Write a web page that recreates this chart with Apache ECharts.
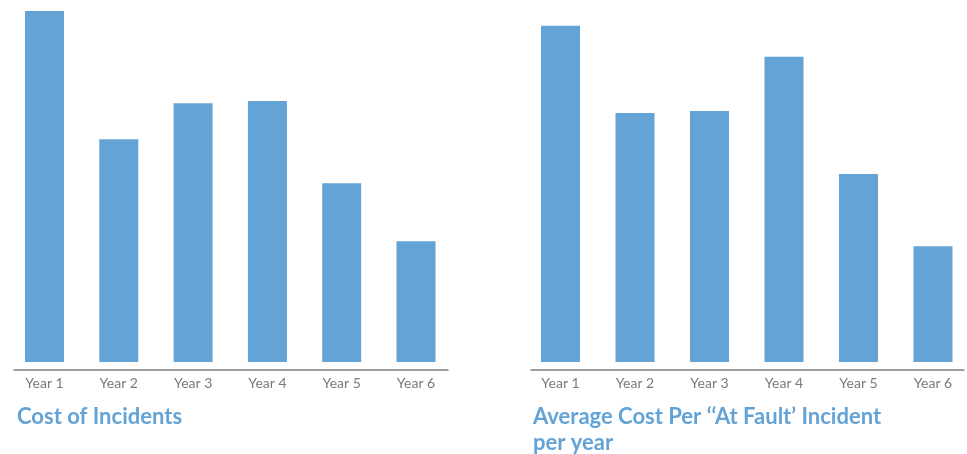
<!DOCTYPE html>
<html>
<head>
<meta charset="utf-8">
<script src="https://cdn.jsdelivr.net/npm/echarts@6/dist/echarts.min.js"></script>
<style>html,body{margin:0;padding:0;background:#fff;}#chart{width:967px;height:454px;}</style>
</head>
<body>
<div id="chart"></div>
<script>
const categories = ['Year 1', 'Year 2', 'Year 3', 'Year 4', 'Year 5', 'Year 6'];
const costOfIncidents = [351, 222.7, 258.7, 261, 178.7, 120.7];
const avgCostPerAtFault = [336.3, 249, 251, 305.3, 188, 115.7];
const titleLeft = 'Cost of Incidents';
const titleRight = 'Average Cost Per \u2018\u2018At Fault\u2019 Incident\nper year';

const barColor = '#63a3d6';
const labelColor = '#7a7a7a';
const font = 'Lato, "Open Sans", sans-serif';

const chart = echarts.init(document.getElementById('chart'), null, {renderer: 'canvas'});
const xCat = (gi) => ({
  type: 'category', gridIndex: gi, data: categories, boundaryGap: false,
  axisLine: {show: false}, axisTick: {show: false},
  axisLabel: {color: labelColor, fontSize: 14, fontFamily: font, margin: 14}
});
const yVal = (gi) => ({type: 'value', gridIndex: gi, min: 0, max: 351, show: false});
const lineAxis = (gi) => ({
  type: 'value', gridIndex: gi, min: 0, max: 1,
  axisLine: {show: true, lineStyle: {color: '#7f7f7f', width: 1.5}},
  axisTick: {show: false}, axisLabel: {show: false}, splitLine: {show: false}
});
chart.setOption({
  animation: false,
  title: [
    {text: titleLeft, left: 17, top: 404, padding: 0, textStyle: {color: barColor, fontSize: 22, fontWeight: 'bold', fontFamily: font, lineHeight: 26}},
    {text: titleRight, left: 533, top: 404, padding: 0, textStyle: {color: barColor, fontSize: 22, fontWeight: 'bold', fontFamily: font, lineHeight: 26}}
  ],
  grid: [
    {left: 44.5, width: 371.5, top: 11, height: 351},
    {left: 560.5, width: 372.5, top: 11, height: 351},
    {left: 14, width: 434, top: 369, height: 1},
    {left: 531, width: 433, top: 369, height: 1}
  ],
  xAxis: [xCat(0), xCat(1), lineAxis(2), lineAxis(3)],
  yAxis: [yVal(0), yVal(1),
    {type: 'value', gridIndex: 2, show: false}, {type: 'value', gridIndex: 3, show: false}],
  series: [
    {type: 'bar', xAxisIndex: 0, yAxisIndex: 0, data: costOfIncidents, barWidth: 39, itemStyle: {color: barColor}},
    {type: 'bar', xAxisIndex: 1, yAxisIndex: 1, data: avgCostPerAtFault, barWidth: 39, itemStyle: {color: barColor}}
  ]
});
</script>
</body>
</html>
